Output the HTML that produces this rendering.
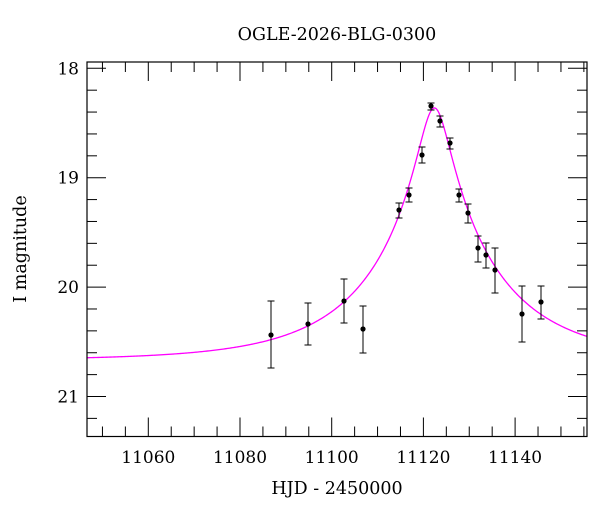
<!DOCTYPE html>
<html><head><meta charset="utf-8"><style>
body{margin:0;background:#fff;}
svg text{font-family:"DejaVu Serif","Liberation Serif",serif;fill:#000;}
</style></head><body>
<svg id="s" width="600" height="512" xmlns="http://www.w3.org/2000/svg">
<text x="337" y="40" font-size="17.5" text-anchor="middle">OGLE-2026-BLG-0300</text>
<text x="337" y="494" font-size="17.5" text-anchor="middle">HJD - 2450000</text>
<text transform="translate(26,249) rotate(-90)" font-size="17.5" text-anchor="middle">I magnitude</text>
<g id="g"></g>
<rect x="87" y="62" width="500" height="374.5" fill="none" stroke="#000" stroke-width="1.2"/>
</svg>
<script>
var g=document.getElementById('g'),ns="http://www.w3.org/2000/svg";
function X(t){return 148.3+(t-11060)*4.585;}
function Y(m){return 68.3+(m-18)*109.4;}
function el(n,a){var e=document.createElementNS(ns,n);for(var k in a)e.setAttribute(k,a[k]);g.appendChild(e);return e;}
function ln(a,b,c,d,col,w){el('line',{x1:a,y1:b,x2:c,y2:d,stroke:col||'#000','stroke-width':w||1});}
for(var t=11050;t<=11155;t+=5){var x=X(t);if(x<87||x>587)continue;var L=(t%20==0)?19:10;ln(x,436.5,x,436.5-L);ln(x,62,x,62+L);
 if(t%20==0){var tx=el('text',{x:x,y:463,'font-size':17,'text-anchor':'middle'});tx.textContent=t;}}
for(var i=0;i<=17;i++){var m=18+i*0.2;var y=Y(m);if(y<62||y>436.5)continue;var maj=(i%5==0);var L=maj?19:10;ln(87,y,87+L,y);ln(587,y,587-L,y);
 if(maj){var ty=el('text',{x:79,y:y+6,'font-size':17,'text-anchor':'end'});ty.textContent=Math.round(m);}}
var base=20.67,u0=0.12,t0=11122.4,tE=27.6,d="";
for(var px=87;px<=587;px+=1){var t=11060+(px-148.3)/4.585;var dt=(t-t0)/tE;var u=Math.sqrt(u0*u0+dt*dt);var A=(u*u+2)/(u*Math.sqrt(u*u+4));var m=base-2.5*Math.log10(A);var y=Y(m);d+=(px==87?"M":"L")+px+","+y.toFixed(2);}
el('path',{d:d,fill:'none',stroke:'#ff00ff','stroke-width':1.3});
var pts=[[271,335,301,368],[308,324,303,345],[344,301,279,323],[363,329,306,353],[399,210,203,218],[409,195,188,202],[422,155,147,163],[431,106,103,110],[440,121,116,127],[450,143,138,149],[459,195,189,202],[468,213,204,223],[478,248,236,262],[486,255,243,268],[495,270,248,293],[522,314,286,342],[541,302,286,319]];
pts.forEach(function(p){ln(p[0],p[2],p[0],p[3],'#000',1);ln(p[0]-3.5,p[2],p[0]+3.5,p[2],'#000',1);ln(p[0]-3.5,p[3],p[0]+3.5,p[3],'#000',1);
 el('circle',{cx:p[0],cy:p[1],r:2.6,fill:'#000'});});
</script>
</body></html>
